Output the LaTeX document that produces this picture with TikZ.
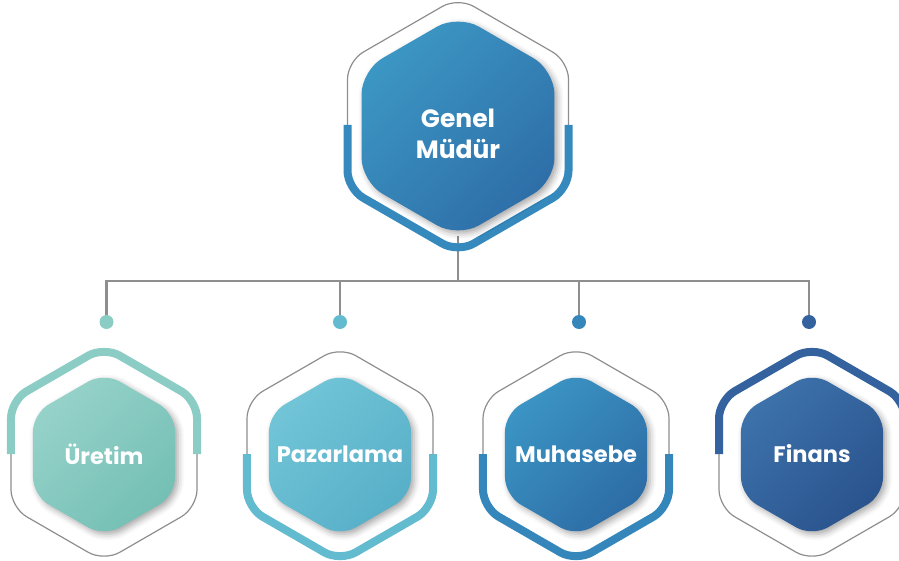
\documentclass[tikz,border=0pt]{standalone}
\usepackage{fontspec}
\setmainfont{Poppins}
\usetikzlibrary{shadows.blur}

\definecolor{lineGray}{HTML}{8E8E8E}
\definecolor{gmA}{HTML}{3C97C4}
\definecolor{gmB}{HTML}{2E6EA8}
\definecolor{gmRing}{HTML}{3589BD}
\definecolor{urA}{HTML}{96D2CA}
\definecolor{urB}{HTML}{74BFB4}
\definecolor{urRing}{HTML}{8BCDC4}
\definecolor{pzA}{HTML}{72C5D7}
\definecolor{pzB}{HTML}{57AFC8}
\definecolor{pzRing}{HTML}{63BBD0}
\definecolor{mhA}{HTML}{3B95C4}
\definecolor{mhB}{HTML}{2D6CA6}
\definecolor{mhRing}{HTML}{3587BB}
\definecolor{fnA}{HTML}{3D72AB}
\definecolor{fnB}{HTML}{2A538D}
\definecolor{fnRing}{HTML}{33629E}

% full closed hexagon (pointy top), started at the middle of the left side
\newcommand\hexclosed[3]{({#1-0.8660*#3},#2) -- ({#1-0.8660*#3},{#2-0.5*#3}) -- (#1,{#2-#3}) -- ({#1+0.8660*#3},{#2-0.5*#3}) -- ({#1+0.8660*#3},{#2+0.5*#3}) -- (#1,{#2+#3}) -- ({#1-0.8660*#3},{#2+0.5*#3}) -- cycle}
% upper and lower halves of the same outline
\newcommand\hexupper[3]{({#1-0.8660*#3},#2) -- ({#1-0.8660*#3},{#2-0.5*#3}) -- (#1,{#2-#3}) -- ({#1+0.8660*#3},{#2-0.5*#3}) -- ({#1+0.8660*#3},#2)}
\newcommand\hexlower[3]{({#1-0.8660*#3},#2) -- ({#1-0.8660*#3},{#2+0.5*#3}) -- (#1,{#2+#3}) -- ({#1+0.8660*#3},{#2+0.5*#3}) -- ({#1+0.8660*#3},#2)}

% ring: thin grey outline plus a thick coloured half
\newcommand\ringupper[4]{%
  \draw[thinring] \hexclosed{#1}{#2}{#3};
  \draw[thickring, draw=#4] \hexupper{#1}{#2}{#3};}
\newcommand\ringlower[4]{%
  \draw[thinring] \hexclosed{#1}{#2}{#3};
  \draw[thickring, draw=#4] \hexlower{#1}{#2}{#3};}
% filled inner hexagon with a diagonal gradient and soft shadow
\newcommand\hexbody[6]{%
  \path[hexfill, rounded corners=#4, top color=#5, bottom color=#6, shading angle=45] \hexclosed{#1}{#2}{#3};}

\tikzset{
  thinring/.style={draw=lineGray, line width=1.2pt, rounded corners=18pt},
  thickring/.style={line width=8pt, rounded corners=18pt},
  hexfill/.style={blur shadow={shadow xshift=3pt, shadow yshift=-3pt, shadow blur radius=6pt, shadow opacity=35}},
  link/.style={draw=lineGray, line width=2.7pt},
  dot/.style={circle, inner sep=0pt, minimum size=14pt},
  hexlabel/.style={text=white, align=center, font=\bfseries\fontsize{22.5}{27}\selectfont},
  biglabel/.style={text=white, align=center, font=\bfseries\fontsize{25}{31}\selectfont}
}

\begin{document}
\begin{tikzpicture}[x=1pt, y=-1pt]
\useasboundingbox (0,0) rectangle (899,561);

% connector anchors
\coordinate (gmfoot) at (458,236);
\coordinate (bus) at (458,281);
\coordinate (p1) at (106.5,322);
\coordinate (p2) at (340,322);
\coordinate (p3) at (579,322);
\coordinate (p4) at (809,322);

% connectors
\draw[link] (gmfoot) -- (bus);
\draw[link] (p1) |- (bus) -| (p4);
\draw[link] (p2) -- (p2 |- bus);
\draw[link] (p3) -- (p3 |- bus);

% rings
\ringlower{458}{125}{127.6}{gmRing}
\ringupper{104}{454}{107.4}{urRing}
\ringlower{340}{454}{107.4}{pzRing}
\ringlower{576}{454}{107.4}{mhRing}
\ringupper{812}{454}{107.4}{fnRing}

% inner hexagons
\hexbody{458}{126}{111.4}{24pt}{gmA}{gmB}
\hexbody{104}{454.5}{82}{18pt}{urA}{urB}
\hexbody{340}{454.5}{82}{18pt}{pzA}{pzB}
\hexbody{576}{454.5}{82}{18pt}{mhA}{mhB}
\hexbody{812}{454.5}{82}{18pt}{fnA}{fnB}

% labels
\node[biglabel] (gm) at (458,134) {Genel\\Müdür};
\node[hexlabel] (ur) at (104,454) {Üretim};
\node[hexlabel] (pz) at (340,454) {Pazarlama};
\node[hexlabel] (mh) at (576,454) {Muhasebe};
\node[hexlabel] (fn) at (812,454) {Finans};

% junction dots
\node[dot, fill=urRing] (d1) at (p1) {};
\node[dot, fill=pzRing] (d2) at (p2) {};
\node[dot, fill=mhRing] (d3) at (p3) {};
\node[dot, fill=fnRing] (d4) at (p4) {};
\end{tikzpicture}
\end{document}
